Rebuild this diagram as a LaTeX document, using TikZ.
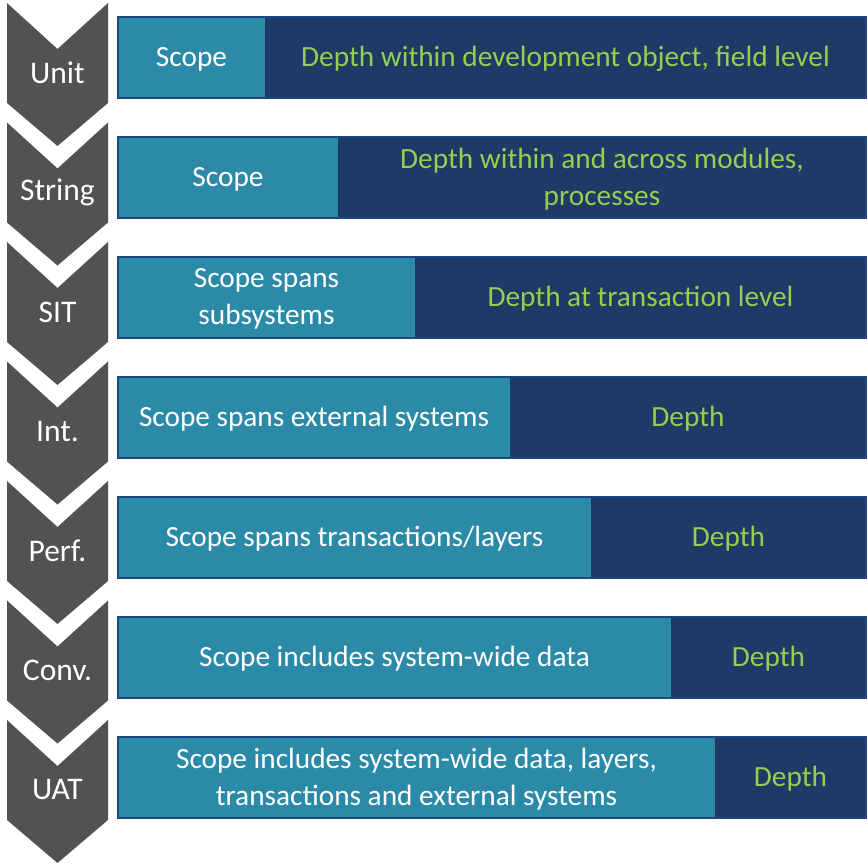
\documentclass[tikz,border=0pt]{standalone}
\usepackage{fontspec}
\setmainfont{Carlito}
\definecolor{chev}{HTML}{525252}
\definecolor{framecol}{HTML}{1E4681}
\definecolor{scopefill}{HTML}{2B8AA7}
\definecolor{depthfill}{HTML}{1F3A66}
\definecolor{depthtext}{HTML}{92D050}
\tikzset{
  chevron/.style={fill=chev, draw=none},
  stagelabel/.style={text=white, font=\fontsize{31.5}{34}\selectfont, inner sep=0pt},
  barfill/.style={fill=depthfill, draw=none},
  barframe/.style={draw=framecol, line width=2.5pt},
  scopepart/.style={fill=scopefill, draw=none},
  scopetext/.style={text=white, font=\fontsize{29.3}{36.5}\selectfont, align=center, inner sep=0pt},
  depthlabel/.style={text=depthtext, font=\fontsize{29.3}{36.5}\selectfont, align=center, inner sep=0pt},
}
% #1 row index, #2 id, #3 stage name, #4 right edge of scope part, #5 scope text, #6 depth text
\newcommand\teststage[6]{%
  \pgfmathsetmacro\yc{3+119.5*#1}%
  \pgfmathsetmacro\yb{17+120*#1}%
  \fill[chevron] (7,\yc) -- (57.5,\yc+46) -- (108,\yc) -- (108,\yc+100)
    -- (57.5,\yc+143) -- (7,\yc+100) -- cycle;
  \node[stagelabel] (lab#2) at (57.5,\yc+70) {#3};
  \fill[barfill] (118,\yb) rectangle (866,\yb+81);
  \fill[scopepart] (118,\yb) rectangle (#4,\yb+81);
  \draw[barframe] (118,\yb) rectangle (866,\yb+81);
  \node[scopetext] (scope#2) at ({(118+#4)/2},\yb+42) {#5};
  \node[depthlabel] (depth#2) at ({(#4+866)/2},\yb+42) {#6};
}
\begin{document}
\begin{tikzpicture}[x=1pt, y=-1pt]
  \useasboundingbox (0,0) rectangle (868,864);
  \teststage{0}{unit}{Unit}{265}{Scope}{Depth within development object, field level}
  \teststage{1}{string}{String}{338}{Scope}{Depth within and across modules,\\processes}
  \teststage{2}{sit}{SIT}{415}{Scope spans\\subsystems}{Depth at transaction level}
  \teststage{3}{int}{Int.}{510}{Scope spans external systems}{Depth}
  \teststage{4}{perf}{Perf.}{591}{Scope spans transactions/layers}{Depth}
  \teststage{5}{conv}{Conv.}{671}{Scope includes system-wide data}{Depth}
  \teststage{6}{uat}{UAT}{715}{Scope includes system-wide data, layers,\\transactions and external systems}{Depth}
\end{tikzpicture}
\end{document}
